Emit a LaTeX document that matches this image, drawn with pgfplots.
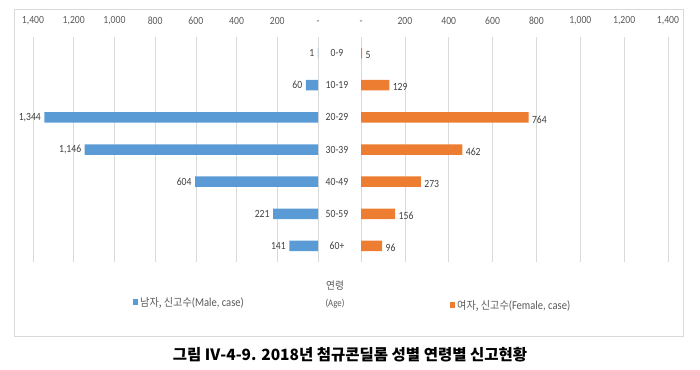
\documentclass[border=0pt]{standalone}
\usepackage{fontspec}
\setmainfont{Carlito}[FakeStretch=0.88]
\newfontfamily\kr{Noto Sans CJK KR}
\newfontfamily\krn{Noto Sans CJK KR}[FakeStretch=0.92]
\usepackage{pgfplots}
\pgfplotsset{compat=1.18}
\definecolor{mblue}{HTML}{5B9BD5}
\definecolor{forange}{HTML}{ED7D31}
\definecolor{gridc}{HTML}{D9D9D9}
\definecolor{txt}{HTML}{595959}
\definecolor{lbl}{HTML}{404040}
\pgfplotsset{common/.style={
  scale only axis, height=225pt, anchor=south west,
  xbar, bar width=10.5pt,
  ymin=-0.5, ymax=6.5, y dir=reverse, ytick={0,...,6},
  xmin=0, xmax=1400, xtick={0,200,...,1400},
  xticklabels={-,200,400,600,800,{1,000},{1,200},{1,400}},
  xticklabel pos=upper,
  axis line style={draw=none},
  major tick length=0pt,
  xmajorgrids, grid style={gridc, line width=0.6pt},
  tick label style={font=\fontsize{11}{13}\selectfont, text=txt},
  xticklabel style={yshift=9pt},
  /pgf/number format/1000 sep={,},
  /pgf/number format/assume math mode=true,
  nodes near coords,
  every node near coord/.append style={font=\fontsize{11}{13}\selectfont, text=lbl},
  clip=false,
}}
\begin{document}
\begin{tikzpicture}
\useasboundingbox (0pt,0pt) rectangle (700pt,369pt);
\draw[gridc, line width=0.6pt] (14pt,33pt) rectangle (683pt,360pt);
\begin{axis}[common, at={(33pt,107pt)}, width=285pt, x dir=reverse,
  yticklabels={},
  nodes near coords style={anchor=east}]
\addplot[fill=mblue, draw=none] coordinates {(1,0) (60,1) (1344,2) (1146,3) (604,4) (221,5) (141,6)};
\end{axis}
\begin{axis}[common, at={(361pt,107pt)}, width=307pt,
  yticklabels={0-9,10-19,20-29,30-39,40-49,50-59,60+},
  yticklabel style={anchor=center, xshift=-24pt, text=lbl},
  nodes near coords style={anchor=west, yshift=-2pt}]
\addplot[fill=forange, draw=none] coordinates {(5,0) (129,1) (764,2) (462,3) (273,4) (156,5) (96,6)};
\end{axis}
\fill[mblue] (132.5pt,64pt) rectangle (137.5pt,70pt);
\node[anchor=west, inner sep=0pt, text=txt, font=\fontsize{12}{14}\selectfont] at (140pt,66.5pt) {{\krn\fontsize{11}{13}\selectfont 남자, 신고수}(Male, case)};
\fill[forange] (450pt,61pt) rectangle (455pt,67pt);
\node[anchor=west, inner sep=0pt, text=txt, font=\fontsize{12}{14}\selectfont] at (457pt,63.5pt) {{\krn\fontsize{11}{13}\selectfont 여자, 신고수}(Female, case)};
\node[text=txt, inner sep=0pt] at (335pt,83pt) {\krn\fontsize{10.5}{12}\selectfont 연령};
\node[text=txt, inner sep=0pt, font=\fontsize{10}{12}\selectfont] at (335pt,65pt) {(Age)};
\node[inner sep=0pt] at (350pt,14pt) {\kr\bfseries\fontsize{15.5}{18}\selectfont 그림 Ⅳ-4-9. 2018년 첨규콘딜롬 성별 연령별 신고현황};
\end{tikzpicture}
\end{document}
